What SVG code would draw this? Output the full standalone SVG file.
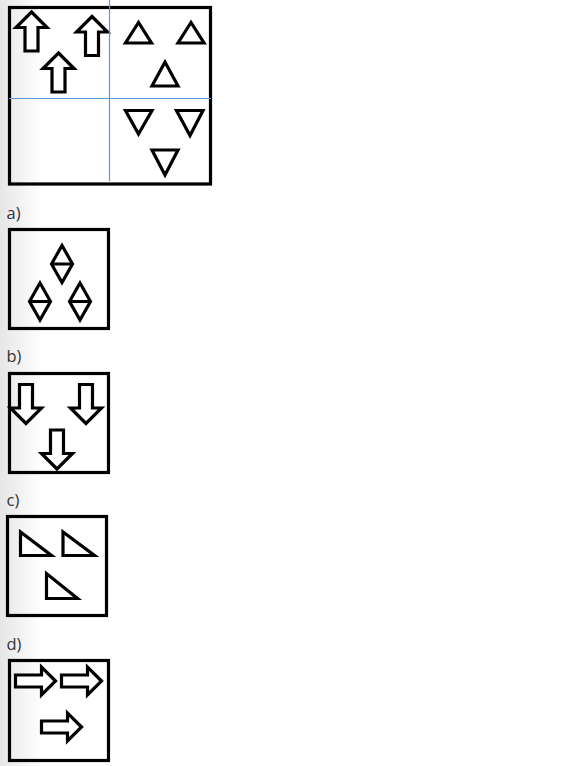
<svg xmlns="http://www.w3.org/2000/svg" width="561" height="766" viewBox="0 0 561 766">
<defs>
<linearGradient id="shade" x1="0" y1="0" x2="1" y2="0">
<stop offset="0" stop-color="#e6e6e6"/>
<stop offset="1" stop-color="#ffffff"/>
</linearGradient>
<path id="up" d="M0,0 L15.5,15.5 L6.5,15.5 L6.5,39 L-6.5,39 L-6.5,15.5 L-15.5,15.5 Z"/>
<path id="down" d="M0,0 L-15.5,-15.5 L-6.5,-15.5 L-6.5,-39 L6.5,-39 L6.5,-15.5 L15.5,-15.5 Z"/>
<path id="right" d="M0,0 L-14,-14 L-14,-6 L-40,-6 L-40,6 L-14,6 L-14,14 Z"/>
<path id="diamond" d="M0,-18.5 L10.5,0 L0,18.5 L-10.5,0 Z M-10.5,0 L10.5,0"/>
</defs>
<style>
.box{fill:none;stroke:#000;stroke-width:3.2}
.shp{fill:#fff;stroke:#000;stroke-width:3.2;stroke-linejoin:miter;stroke-miterlimit:10}
.grid{stroke:#5b9bd5;stroke-width:1.2;fill:none}
.lbl{font-family:"Open Sans","Liberation Sans",sans-serif;font-size:16.5px;fill:#333}
</style>
<rect x="0" y="0" width="561" height="766" fill="#fff"/>
<rect x="0" y="0" width="42" height="766" fill="url(#shade)"/>

<g id="question">
<rect class="box" x="9.5" y="7.5" width="201" height="176.5"/>
<g id="q-arrows">
<use href="#up" class="shp" x="31.5" y="12"/>
<use href="#up" class="shp" x="92" y="16.5"/>
<use href="#up" class="shp" x="58.5" y="53"/>
</g>
<g id="q-up-triangles">
<polygon class="shp" points="138.5,22.5 125.5,43 151.5,43"/>
<polygon class="shp" points="191,22.5 178,43 204,43"/>
<polygon class="shp" points="165,62 152,86 178,86"/>
</g>
<g id="q-down-triangles">
<polygon class="shp" points="125.5,110.5 152,110.5 138.5,134"/>
<polygon class="shp" points="176.5,110.5 203,110.5 190,135.5"/>
<polygon class="shp" points="152,150 178,150 165,175"/>
</g>
</g>
<g id="connectors">
<line class="grid" x1="109.5" y1="0" x2="109.5" y2="181"/>
<line class="grid" x1="9" y1="98.5" x2="211" y2="98.5"/>
</g>

<g id="option-a">
<text class="lbl" x="6.5" y="219">a)</text>
<rect class="box" x="9.5" y="229.5" width="99" height="99"/>
<use href="#diamond" class="shp" x="62" y="264"/>
<use href="#diamond" class="shp" x="40" y="301.5"/>
<use href="#diamond" class="shp" x="80" y="301.5"/>
</g>

<g id="option-b">
<text class="lbl" x="6.5" y="362">b)</text>
<rect class="box" x="9.5" y="373.5" width="99" height="99"/>
<use href="#down" class="shp" x="26" y="423.5"/>
<use href="#down" class="shp" x="86" y="423.5"/>
<use href="#down" class="shp" x="57" y="469"/>
</g>

<g id="option-c">
<text class="lbl" x="6.5" y="506">c)</text>
<rect class="box" x="7.5" y="516.5" width="99" height="99"/>
<polygon class="shp" points="20.5,532 20.5,555.5 51.5,555.5"/>
<polygon class="shp" points="63,532 63,555.5 94.5,555.5"/>
<polygon class="shp" points="46.5,573.5 46.5,598.5 77.5,598.5"/>
</g>

<g id="option-d">
<text class="lbl" x="6.5" y="649.5">d)</text>
<rect class="box" x="9.5" y="660.5" width="99" height="100"/>
<use href="#right" class="shp" x="55.5" y="681"/>
<use href="#right" class="shp" x="101.5" y="681"/>
<use href="#right" class="shp" x="81.5" y="727"/>
</g>
</svg>
